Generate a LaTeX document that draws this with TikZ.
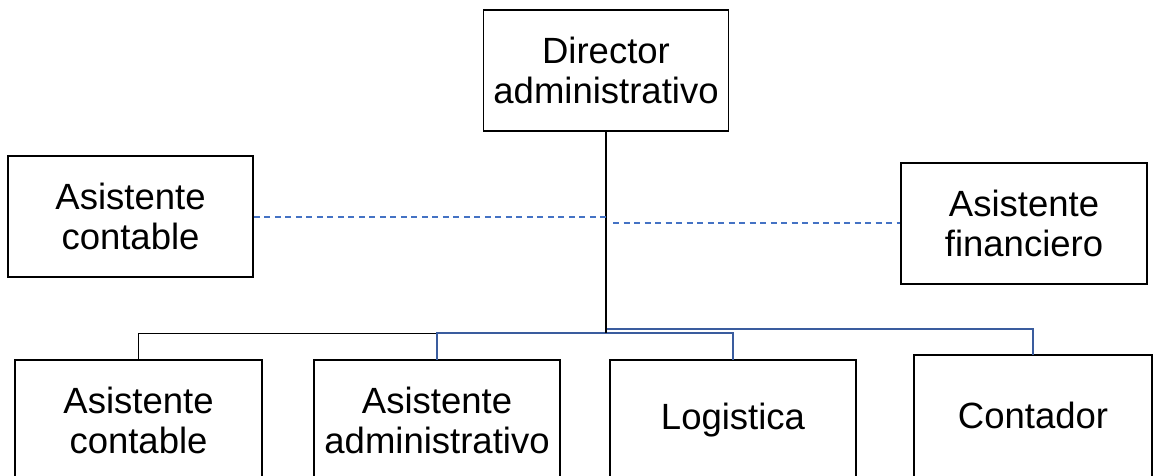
\documentclass[tikz,border=0pt]{standalone}
\usepackage{fontspec}
\setmainfont{Liberation Sans}
\definecolor{dashblue}{HTML}{4472C4}
\definecolor{lineblue}{HTML}{3A5C9E}
\begin{document}
\begin{tikzpicture}[x=1pt,y=-1pt,
  txt/.style={align=center,inner sep=0pt,
    font=\fontsize{36.5}{40}\selectfont,minimum width=245pt,minimum height=121pt},
  box/.style={txt,draw=black,line width=1.9pt,fill=white},
  border/.style={draw=black,line width=1.9pt},
  blk/.style={draw=black,line width=0.9pt},
  dkline/.style={draw=black,line width=1.8pt},
  blu/.style={draw=lineblue,line width=1.6pt},
  dsh/.style={draw=dashblue,line width=1.5pt,dash pattern=on 6pt off 4.5pt}]
\useasboundingbox (0,0) rectangle (1154,476);
\coordinate (j) at (606,333);
\coordinate (j2) at (606,329);
\coordinate (dl) at (606,217);
\coordinate (dr) at (613,223);
\node[box] (dir) at (606,70.5) {Director\\administrativo};
\node[box] (ac) at (130.5,216.5) {Asistente\\contable};
\node[box,minimum width=246pt] (af) at (1024,223.5) {Asistente\\financiero};
\node[txt,minimum width=247pt,minimum height=120pt] (b1) at (138.5,420) {Asistente\\contable};
\node[txt,minimum width=246pt,minimum height=120pt] (b2) at (437,420) {Asistente\\administrativo};
\node[txt,minimum width=246pt,minimum height=120pt] (b3) at (733,420) {Logistica};
\node[txt,minimum width=238pt,minimum height=120pt] (b4) at (1033,415) {Contador};
\foreach \b in {b1,b2,b3,b4}{
  \draw[border] (\b.south west) ++(0,60) |- (\b.north east) -- ++(0,200);
}
\draw[blk] (j) -| (b1.north);
\draw[blu] (j) -| (b2.north);
\draw[blu] (j) -| (b3.north);
\draw[blu] (j2) -| (b4.north);
\draw[dkline] (dir.south) -- (j);
\draw[dsh] (ac.east |- dl) -- (dl);
\draw[dsh] (dr) -- (af.west |- dr);
\end{tikzpicture}
\end{document}
